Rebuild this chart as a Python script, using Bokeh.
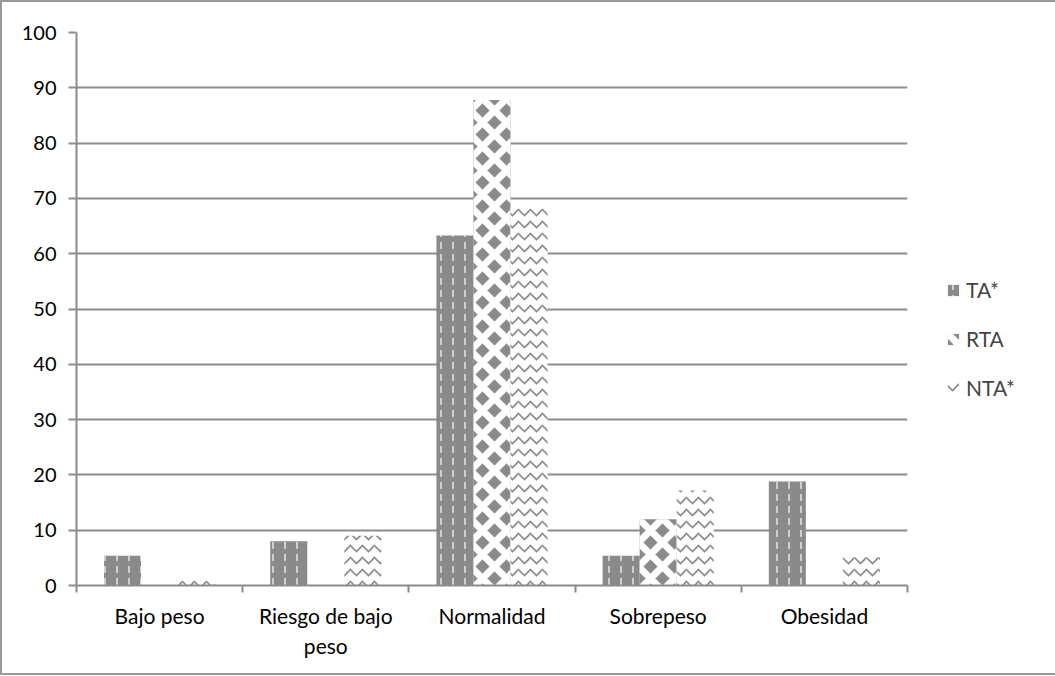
import numpy as np
from bokeh.plotting import figure
from bokeh.models import FixedTicker, Legend, LegendItem, ColumnDataSource
from bokeh.embed import file_html
from bokeh.resources import INLINE

categories = ["Bajo peso", "Riesgo de bajo\npeso", "Normalidad", "Sobrepeso", "Obesidad"]
series_names = ["TA*", "RTA", "NTA*"]
ta = [5.4, 8.0, 63.3, 5.4, 18.8]
rta = [0.0, 0.0, 87.8, 12.0, 0.0]
nta = [0.9, 9.0, 68.2, 17.2, 5.1]
y_ticks = [0, 10, 20, 30, 40, 50, 60, 70, 80, 90, 100]

FONT = "Lato"
GRAY = "#8a8a8a"
LINE = "#8c8c8c"

p = figure(frame_width=831, frame_height=553, output_backend="svg", toolbar_location=None,
           x_range=(0, len(categories)), y_range=(0, 100),
           min_border_left=74, min_border_top=30, min_border_bottom=88, min_border_right=138)
p.outline_line_color = None
p.background_fill_color = "white"
p.border_fill_color = "white"

centers = np.arange(len(categories)) + 0.5
bw = 0.223
src = ColumnDataSource(dict(x_ta=centers - bw, x_rta=centers, x_nta=centers + bw,
                            ta=ta, rta=rta, nta=nta))

r1 = p.vbar(x="x_ta", top="ta", width=bw, source=src, fill_color=GRAY, line_color=None,
            hatch_pattern=":", hatch_color="white", hatch_scale=12, hatch_weight=1.2)
r2 = p.vbar(x="x_rta", top="rta", width=bw, source=src, fill_color=GRAY, line_color=None,
            hatch_pattern="x", hatch_color="white", hatch_scale=24, hatch_weight=7)
r3 = p.vbar(x="x_nta", top="nta", width=bw, source=src, fill_color="white", line_color=None,
            hatch_pattern="v", hatch_color=GRAY, hatch_scale=12, hatch_weight=1.6)

# axes
xa = p.xaxis[0]
xa.ticker = FixedTicker(ticks=list(centers), minor_ticks=list(range(len(categories) + 1)))
xa.major_label_overrides = {float(c): lab for c, lab in zip(centers, categories)}
xa.major_tick_line_color = None
xa.minor_tick_line_color = LINE
xa.minor_tick_line_width = 2
xa.minor_tick_out = 7
xa.minor_tick_in = 0
xa.axis_line_color = LINE
xa.axis_line_width = 2
xa.major_label_standoff = 10
xa.major_label_text_font = FONT
xa.major_label_text_font_size = "21px"
xa.major_label_text_color = "black"

ya = p.yaxis[0]
ya.ticker = FixedTicker(ticks=y_ticks, minor_ticks=[])
ya.major_tick_line_color = LINE
ya.major_tick_line_width = 2
ya.major_tick_out = 8
ya.major_tick_in = 0
ya.axis_line_color = LINE
ya.axis_line_width = 2
ya.major_label_standoff = 12
ya.major_label_text_font = FONT
ya.major_label_text_font_size = "20px"
ya.major_label_text_color = "black"

p.xgrid.grid_line_color = None
p.ygrid.grid_line_color = LINE
p.ygrid.grid_line_width = 2

legend = Legend(items=[LegendItem(label=series_names[0], renderers=[r1]),
                       LegendItem(label=series_names[1], renderers=[r2]),
                       LegendItem(label=series_names[2], renderers=[r3])],
                location=(39, 185), orientation="vertical", spacing=24,
                glyph_width=14, glyph_height=14, label_standoff=6,
                label_text_font=FONT, label_text_font_size="21px",
                border_line_color=None, background_fill_alpha=0, padding=4, margin=0)
p.add_layout(legend, "right")

p.styles = {"border": "2px solid #9a9a9a"}

open("out.html", "w").write(file_html(p, INLINE))
